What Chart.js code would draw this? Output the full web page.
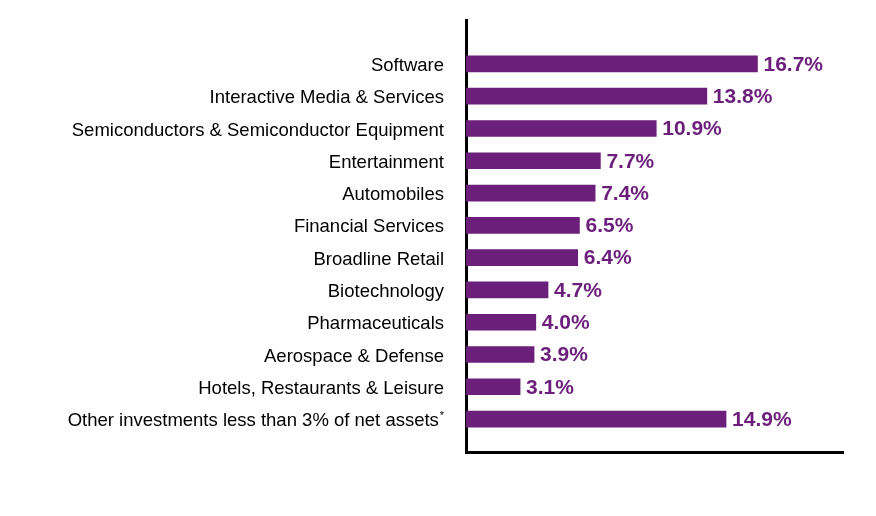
<!DOCTYPE html>
<html>
<head>
<meta charset="utf-8">
<script src="https://cdn.jsdelivr.net/npm/chart.js@4/dist/chart.umd.min.js"></script>
<style>
  html, body { margin:0; padding:0; background:#fff; }
  #wrap { width:876px; height:516px; }
</style>
</head>
<body>
<div id="wrap"><canvas id="c"></canvas></div>
<script>
const industries = [
  'Software',
  'Interactive Media & Services',
  'Semiconductors & Semiconductor Equipment',
  'Entertainment',
  'Automobiles',
  'Financial Services',
  'Broadline Retail',
  'Biotechnology',
  'Pharmaceuticals',
  'Aerospace & Defense',
  'Hotels, Restaurants & Leisure',
  'Other investments less than 3% of net assets*'
];
const weights = [16.7, 13.8, 10.9, 7.7, 7.4, 6.5, 6.4, 4.7, 4.0, 3.9, 3.1, 14.9];

const PURPLE = '#6b1f7b';
const FONT = '"Liberation Sans", Arial, sans-serif';
const TICK_PAD = 22;

// value labels at the end of each bar + small superscript asterisk on footnoted label
const labels = {
  id:'labels',
  afterDatasetsDraw(chart){
    const ctx = chart.ctx;
    const meta = chart.getDatasetMeta(0);
    ctx.save();
    ctx.font = 'bold 21px ' + FONT;
    ctx.fillStyle = PURPLE;
    ctx.textAlign = 'left';
    ctx.textBaseline = 'middle';
    meta.data.forEach((bar, i)=>{
      ctx.fillText(weights[i].toFixed(1) + '%', bar.x + 6, bar.y + 1);
    });
    // footnote marker
    const ys = chart.scales.y;
    ctx.font = '11px ' + FONT;
    ctx.fillStyle = '#000';
    ctx.textAlign = 'right';
    industries.forEach((lab, i)=>{
      if (lab.endsWith('*')) ctx.fillText('*', chart.chartArea.left - TICK_PAD, ys.getPixelForValue(i) - 3);
    });
    ctx.restore();
  }
};

new Chart(document.getElementById('c').getContext('2d'), {
  type:'bar',
  data:{
    datasets:[{
      data: weights.map((v,i)=>({x:v, y:i})),
      backgroundColor: PURPLE,
      barThickness: 16
    }]
  },
  options:{
    indexAxis:'y',
    responsive:true, maintainAspectRatio:false, animation:false,
    layout:{ padding:{ top:20, right:33, bottom:64, left:0 } },
    plugins:{ legend:{display:false}, tooltip:{enabled:false} },
    scales:{
      x:{
        type:'linear', min:0, max:21.6, bounds:'data',
        grid:{ display:false, drawTicks:false },
        ticks:{ display:false },
        border:{ display:true, color:'#000', width:3 },
        afterFit: s => { s.height = 0; s.paddingLeft = 0; s.paddingRight = 0; }
      },
      y:{
        type:'linear', reverse:true, min:-1.36, max:12.02, bounds:'data', offset:false,
        afterBuildTicks: s => { s.ticks = industries.map((_, i)=>({value:i})); },
        grid:{ display:false, drawTicks:false },
        border:{ display:true, color:'#000', width:3 },
        ticks:{
          autoSkip:false, padding:TICK_PAD, color:'#000', labelOffset:2,
          font:{ family:FONT, size:18.5 },
          callback: v => industries[v].replace('*', ' ')
        },
        afterFit: s => { s.width = 466; s.paddingTop = 0; s.paddingBottom = 0; }
      }
    }
  },
  plugins:[labels]
});
</script>
</body>
</html>
